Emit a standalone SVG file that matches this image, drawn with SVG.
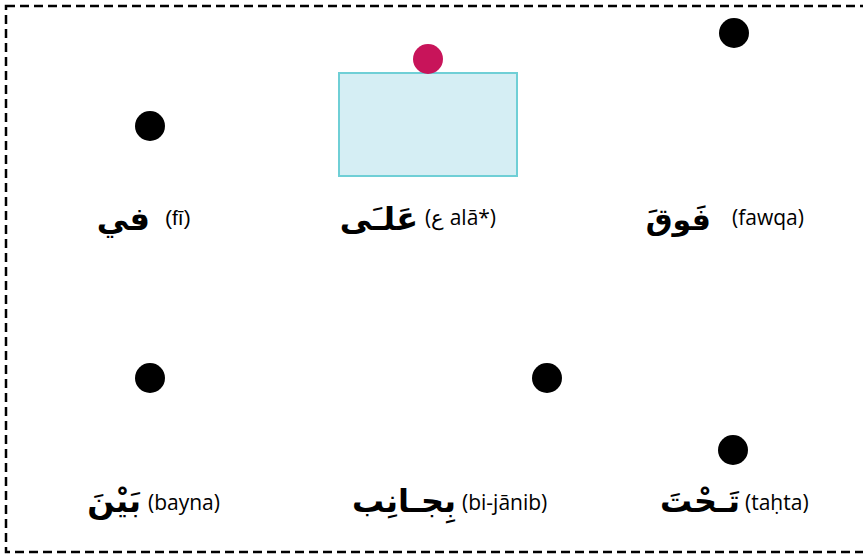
<svg xmlns="http://www.w3.org/2000/svg" width="863" height="558" viewBox="0 0 863 558">
<style>
.ar{font-family:"DejaVu Sans","Noto Sans",sans-serif;font-weight:bold;font-size:32px;fill:#000;text-anchor:end}
.tr{font-family:"Open Sans","Liberation Sans",sans-serif;font-size:21px;fill:#000}
.dot{fill:#000}
</style>
<rect x="0" y="0" width="863" height="558" fill="#fff"/>
<rect id="frame" x="6" y="6" width="870" height="546" fill="none" stroke="#000" stroke-width="2.5" stroke-dasharray="9 5"/>
<g id="fi">
<circle class="dot" cx="150" cy="126" r="15"/>
<text class="ar" x="150" y="230">في</text>
<text class="tr" x="165" y="225" style="font-family:'Liberation Sans',sans-serif">(fī)</text>
</g>
<g id="ala">
<rect x="339" y="73" width="178" height="103" fill="#d5eef4" stroke="#6fcfd6" stroke-width="2"/>
<circle cx="428" cy="59" r="15" fill="#c8145a"/>
<text class="ar" x="418" y="230">عَلـَى</text>
<text class="tr" x="425" y="225">(ع alā*)</text>
</g>
<g id="fawqa">
<circle class="dot" cx="734" cy="33" r="15"/>
<text class="ar" x="711" y="230" style="font-size:30px">فَوقَ</text>
<text class="tr" x="732" y="225">(fawqa)</text>
</g>
<g id="bayna">
<circle class="dot" cx="150" cy="378" r="15"/>
<text class="ar" x="141" y="512">بَيْنَ</text>
<text class="tr" x="148" y="510">(bayna)</text>
</g>
<g id="bijanib">
<circle class="dot" cx="547" cy="378" r="15"/>
<text class="ar" x="456" y="512">بِجـانِب</text>
<text class="tr" x="462" y="510">(bi-jānib)</text>
</g>
<g id="tahta">
<circle class="dot" cx="733" cy="450" r="15"/>
<text class="ar" x="740" y="512">تَـحْتَ</text>
<text class="tr" x="745" y="510">(taḥta)</text>
</g>
<g id="connectors"/>
</svg>
